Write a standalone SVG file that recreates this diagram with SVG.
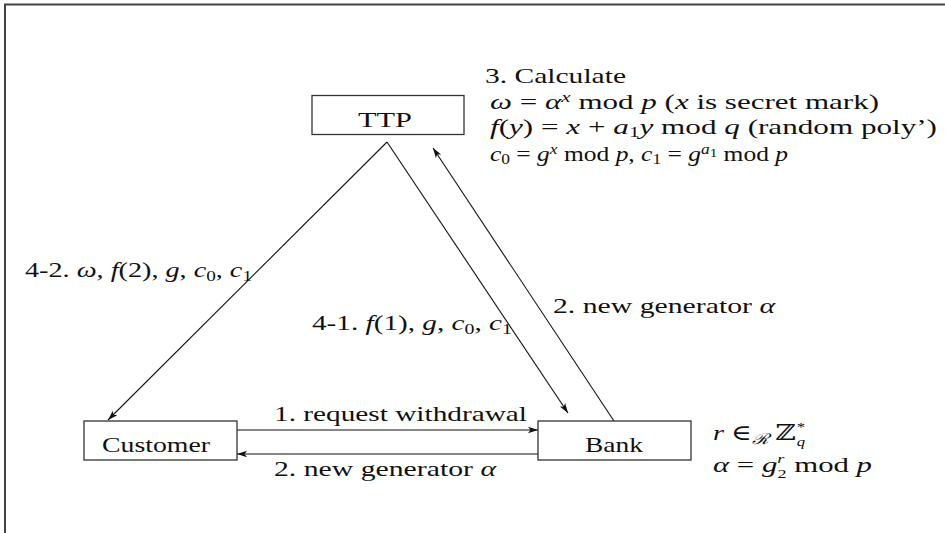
<svg xmlns="http://www.w3.org/2000/svg" width="945" height="533" viewBox="0 0 945 533">
<style>
text{font-family:"Liberation Serif","DejaVu Serif",serif;font-size:22px;fill:#111;}
.i{font-style:italic;}
.s{font-size:15px;}
.t{font-size:13px;}
.box{fill:#fff;stroke:#333;stroke-width:1.3;}
.edge{fill:none;stroke:#111;stroke-width:1.1;}
.frame{fill:none;stroke:#444;stroke-width:2;}
</style>
<defs>
<marker id="arr" markerUnits="userSpaceOnUse" markerWidth="11" markerHeight="9" refX="10" refY="4" orient="auto">
<path d="M0,0.8 L10,4 L0,7.2 L2.5,4 z" fill="#111"/>
</marker>
</defs>
<path class="frame" d="M5,533 L5,4.5 L945,4.5"/>
<g id="connectors">
<path class="edge" d="M387,142 L108,420" marker-end="url(#arr)"/>
<path class="edge" d="M387,142 L568,413" marker-end="url(#arr)"/>
<path class="edge" d="M614,421 L433,148" marker-end="url(#arr)"/>
<path class="edge" d="M237,430 L538,430" marker-end="url(#arr)"/>
<path class="edge" d="M538,454 L237,454" marker-end="url(#arr)"/>
</g>
<g id="node-ttp">
<rect class="box" x="312" y="95.5" width="152" height="39"/>
<text x="358" y="127" textLength="54" lengthAdjust="spacingAndGlyphs">TTP</text>
</g>
<g id="node-customer">
<rect class="box" x="84" y="421" width="153" height="39"/>
<text x="102" y="452" textLength="108" lengthAdjust="spacingAndGlyphs">Customer</text>
</g>
<g id="node-bank">
<rect class="box" x="538" y="421" width="153" height="39"/>
<text x="585" y="452" textLength="58" lengthAdjust="spacingAndGlyphs">Bank</text>
</g>
<g id="labels">
<text x="485" y="83" textLength="141" lengthAdjust="spacingAndGlyphs">3. Calculate</text>
<text x="490" y="108.5" textLength="389" lengthAdjust="spacingAndGlyphs"><tspan class="i">ω</tspan> = <tspan class="i">α</tspan><tspan class="i s" dy="-7">x</tspan><tspan dy="7"> mod </tspan><tspan class="i">p</tspan>   (<tspan class="i">x</tspan> is secret mark)</text>
<text x="490" y="134" textLength="447" lengthAdjust="spacingAndGlyphs"><tspan class="i">f</tspan>(<tspan class="i">y</tspan>) = <tspan class="i">x</tspan> + <tspan class="i">a</tspan><tspan class="s" dy="3">1</tspan><tspan class="i" dy="-3">y</tspan> mod <tspan class="i">q</tspan>   (random poly’)</text>
<text x="490" y="161" textLength="298" lengthAdjust="spacingAndGlyphs"><tspan class="i">c</tspan><tspan class="s" dy="3">0</tspan><tspan dy="-3"> = </tspan><tspan class="i">g</tspan><tspan class="i s" dy="-7">x</tspan><tspan dy="7"> mod </tspan><tspan class="i">p</tspan>, <tspan class="i">c</tspan><tspan class="s" dy="3">1</tspan><tspan dy="-3"> = </tspan><tspan class="i">g</tspan><tspan class="i s" dy="-7">a</tspan><tspan class="t" dy="3">1</tspan><tspan dy="4"> mod </tspan><tspan class="i">p</tspan></text>
<text x="25" y="277" textLength="227" lengthAdjust="spacingAndGlyphs">4-2.  <tspan class="i">ω</tspan>, <tspan class="i">f</tspan>(2), <tspan class="i">g</tspan>, <tspan class="i">c</tspan><tspan class="s" dy="4">0</tspan><tspan dy="-4">, </tspan><tspan class="i">c</tspan><tspan class="s" dy="4">1</tspan></text>
<text x="312" y="330" textLength="200" lengthAdjust="spacingAndGlyphs">4-1.  <tspan class="i">f</tspan>(1), <tspan class="i">g</tspan>, <tspan class="i">c</tspan><tspan class="s" dy="4">0</tspan><tspan dy="-4">, </tspan><tspan class="i">c</tspan><tspan class="s" dy="4">1</tspan></text>
<text x="553" y="313" textLength="222" lengthAdjust="spacingAndGlyphs">2.  new generator <tspan class="i">α</tspan></text>
<text x="274" y="421" textLength="253" lengthAdjust="spacingAndGlyphs">1.  request withdrawal</text>
<text x="274" y="476" textLength="222" lengthAdjust="spacingAndGlyphs">2.  new generator <tspan class="i">α</tspan></text>
<text x="713" y="440" textLength="92" lengthAdjust="spacingAndGlyphs"><tspan class="i">r</tspan> ∈<tspan class="s i" dy="4">ℛ</tspan><tspan dy="-4"> ℤ</tspan><tspan class="i t" dy="-9">*</tspan><tspan class="i t" dx="-6" dy="15">q</tspan></text>
<text x="713" y="472" textLength="159" lengthAdjust="spacingAndGlyphs"><tspan class="i">α</tspan> = <tspan class="i">g</tspan><tspan class="i t" dy="-9">r</tspan><tspan class="t" dx="-5" dy="15">2</tspan><tspan dy="-6"> mod </tspan><tspan class="i">p</tspan></text>
</g>
</svg>
